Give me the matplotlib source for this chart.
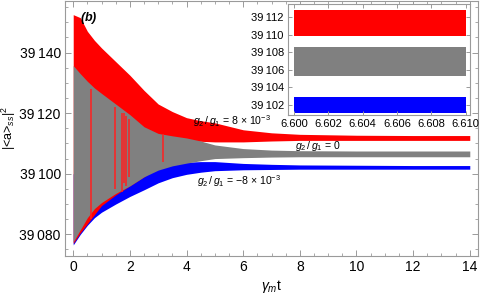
import matplotlib.pyplot as plt
from matplotlib.ticker import MultipleLocator

plt.rcParams['font.family'] = ['Liberation Sans', 'DejaVu Sans']
plt.rcParams['mathtext.fontset'] = 'custom'
plt.rcParams['mathtext.rm'] = 'Liberation Sans'
plt.rcParams['mathtext.it'] = 'Liberation Sans:italic'
plt.rcParams['mathtext.bf'] = 'Liberation Sans:bold:italic'

# envelopes of the three oscillating bands
t = [0, 0.25, 0.5, 0.75, 1, 1.5, 2, 2.5, 3, 3.5, 4, 4.5, 5, 6, 7, 8, 10, 12, 14]
red_hi = [39152.5, 39151.5, 39147, 39144, 39141.5, 39137, 39132.5, 39127.5, 39123, 39120.5,
          39118.5, 39117.5, 39116.8, 39114.5, 39113.5, 39113, 39112.7, 39112.6, 39112.6]
red_lo = [39077, 39080.5, 39083.5, 39086.5, 39089.5, 39093, 39096, 39099, 39102, 39106,
          39110.5, 39110.7, 39110.5, 39110.5, 39110.8, 39111, 39111, 39111, 39111]
grey_hi = [39135.7, 39133, 39130.5, 39128.3, 39126.5, 39123, 39119.5, 39115.5, 39113.3, 39112.5,
           39111.8, 39110.8, 39109.5, 39108.3, 39107.8, 39107.6, 39107.5, 39107.5, 39107.5]
grey_lo = [39077.5, 39081.5, 39085.5, 39088.5, 39090.5, 39093.5, 39096, 39099, 39101.2, 39102.6,
           39103.5, 39104.3, 39105, 39105.3, 39105.5, 39105.6, 39105.6, 39105.6, 39105.6]
blue_hi = [39100, 39100, 39100, 39100, 39100, 39100, 39100, 39101, 39102, 39103.3,
           39103.8, 39104, 39104, 39103.4, 39103.1, 39102.9, 39102.8, 39102.7, 39102.7]
blue_lo = [39076.5, 39080, 39083, 39085.5, 39087.3, 39090, 39092.5, 39094.7, 39097, 39098.7,
           39099.8, 39100.5, 39101, 39101.3, 39101.4, 39101.5, 39101.5, 39101.5, 39101.5]

# red spikes showing through the grey band
spike_t = [0.62, 1.47, 1.72, 1.78, 1.88, 1.97, 3.17]
spike_lo = [39085, 39095, 39094, 39097, 39096, 39099, 39104]
spike_hi = [39128, 39122, 39120, 39120, 39119, 39118, 39113]

# inset (zoom on 6.600 - 6.610)
inset_t = [6.600, 6.610]
inset_red = [39109.85, 39112.85]
inset_grey = [39105.3, 39108.65]
inset_blue = [39101.05, 39102.9]

xticks = [0, 2, 4, 6, 8, 10, 12, 14]
yticks = [39080, 39100, 39120, 39140]
inset_xticks = [6.600, 6.602, 6.604, 6.606, 6.608, 6.610]
inset_yticks = [39102, 39104, 39106, 39108, 39110, 39112]

frame_col = '#9a9a9a'


def grouped(v):
    s = str(int(v))
    return s[:2] + '\u2009' + s[2:]


def style_frame(a, fs):
    for sp in a.spines.values():
        sp.set_color(frame_col)
        sp.set_linewidth(0.8)
    a.tick_params(which='both', direction='in', top=True, right=True,
                  color=frame_col, labelsize=fs, labelcolor='black', pad=3)
    a.tick_params(which='major', length=4, width=0.7)
    a.tick_params(which='minor', length=2.2, width=0.6)


fig = plt.figure(figsize=(4.8, 2.94), dpi=100)
ax = fig.add_axes([65 / 480, 38 / 294, 413 / 480, 255 / 294])

ax.fill_between(t, blue_lo, blue_hi, color='#0000ff', linewidth=0)
ax.fill_between(t, red_lo, red_hi, color='#ff0000', linewidth=0)
ax.fill_between(t, grey_lo, grey_hi, color='#808080', linewidth=0)
ax.vlines(spike_t, spike_lo, spike_hi, color='#ff2020', linewidth=1.1)

ax.set_xlim(-0.29, 14.29)
ax.set_ylim(39072.85, 39157)
ax.set_xticks(xticks)
ax.set_xticklabels([str(v) for v in xticks])
ax.set_yticks(yticks)
ax.set_yticklabels([grouped(v) for v in yticks])
ax.xaxis.set_minor_locator(MultipleLocator(0.5))
ax.yaxis.set_minor_locator(MultipleLocator(5))
style_frame(ax, 10)

ax.set_xlabel(r'$\gamma_m$t', fontsize=10, labelpad=3)
ax.set_ylabel(r'|<a>$_{ss}$|$^2$', fontsize=9)
ax.yaxis.set_label_coords(-0.113, 0.5)

ax.text(0.25, 39151.5, r'$\mathbf{(b)}$', fontsize=9, va='center', ha='left')
ax.text(4.22, 39117.3, r'$g_2\,/\,g_1$ = 8 × 10$^{-3}$', fontsize=7.6, va='center')
ax.text(7.83, 39109, r'$g_2\,/\,g_1$ = 0', fontsize=7.6, va='center')
ax.text(4.37, 39097.5, r'$g_2\,/\,g_1$ = −8 × 10$^{-3}$', fontsize=7.6, va='center')

ins = fig.add_axes([288 / 480, 179 / 294, 182 / 480, 111 / 294])
ins.fill_between(inset_t, inset_red[0], inset_red[1], color='#ff0000', linewidth=0)
ins.fill_between(inset_t, inset_grey[0], inset_grey[1], color='#808080', linewidth=0)
ins.fill_between(inset_t, inset_blue[0], inset_blue[1], color='#0000ff', linewidth=0)
ins.set_xlim(6.59965, 6.61025)
ins.set_ylim(39100.86, 39113.5)
ins.set_xticks(inset_xticks)
ins.set_xticklabels(['%.3f' % v for v in inset_xticks])
ins.set_yticks(inset_yticks)
ins.set_yticklabels([grouped(v) for v in inset_yticks])
style_frame(ins, 8)
ins.tick_params(which='major', length=3)

fig.savefig('out.png', dpi=100)
